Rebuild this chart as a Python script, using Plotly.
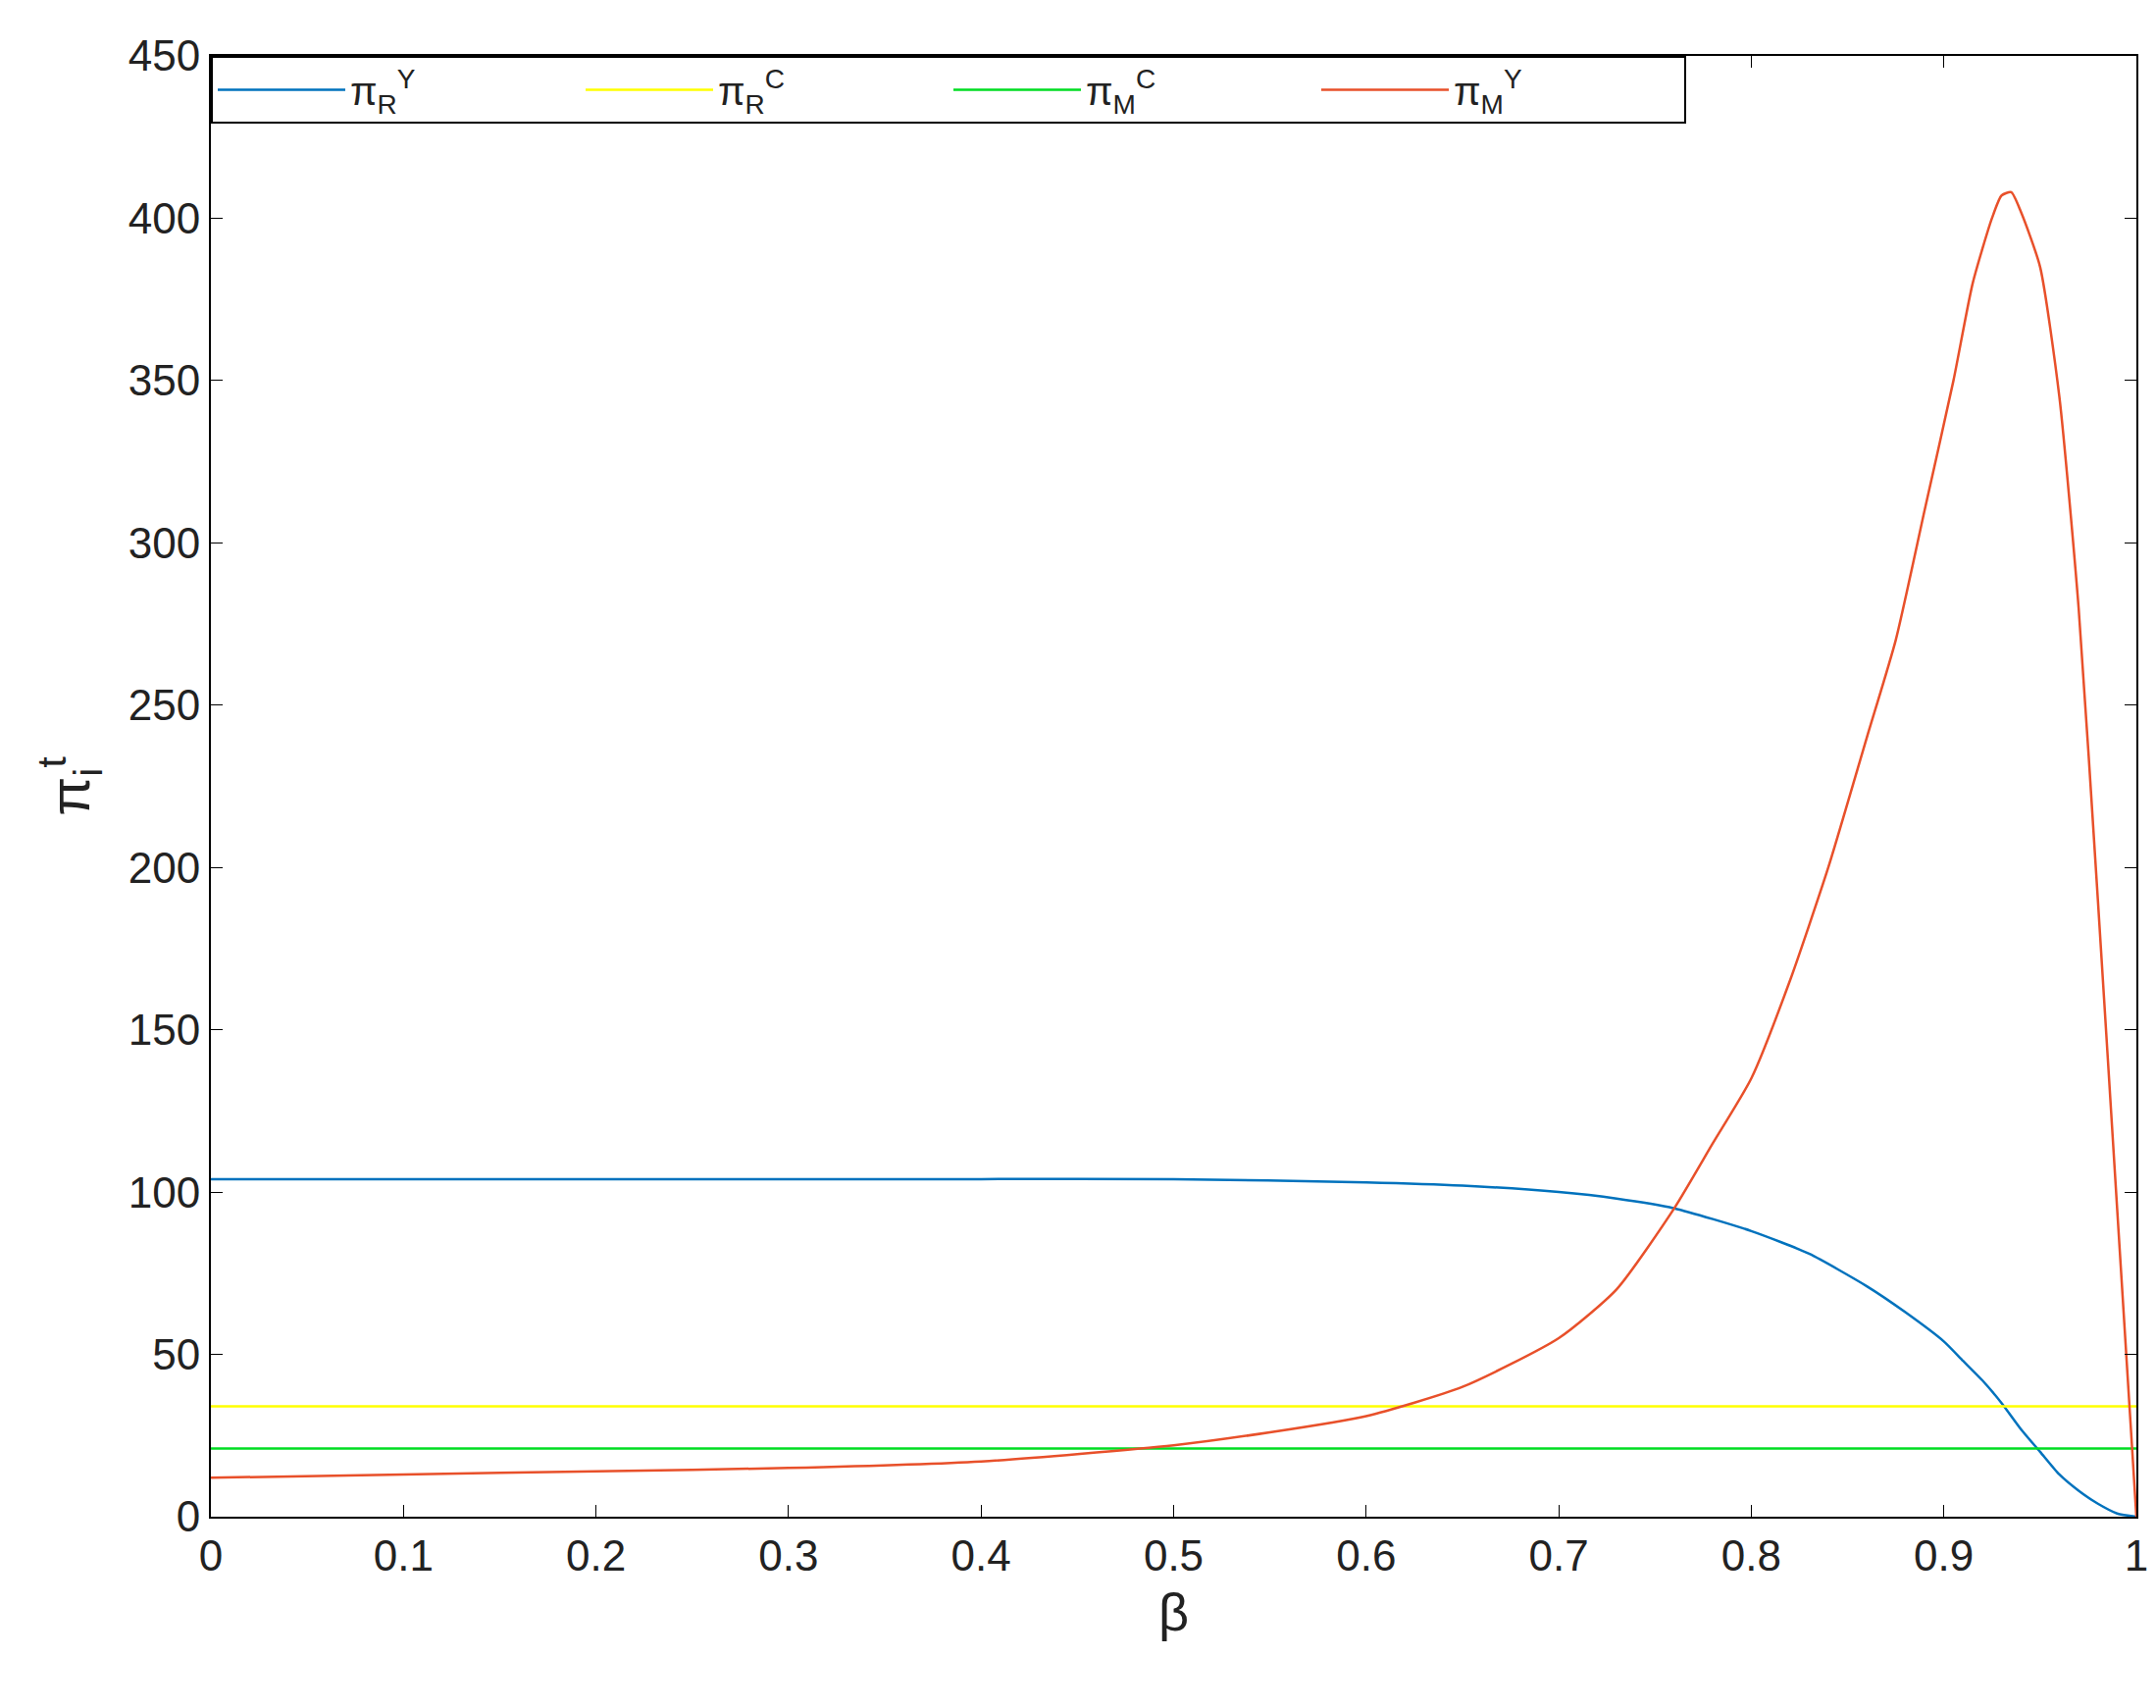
import plotly.graph_objects as go

beta_blue = [0, 0.1, 0.2, 0.3, 0.4, 0.5, 0.6, 0.65, 0.7, 0.73, 0.76, 0.8, 0.83, 0.86, 0.88, 0.9, 0.91, 0.92, 0.93, 0.94, 0.95, 0.96, 0.97, 0.98, 0.99, 1.0]
pi_R_Y = [104, 104, 104, 104, 104, 104, 103, 102, 100, 98, 95, 88, 81, 71, 63, 54, 48, 42, 35, 27, 20, 13, 8, 4, 1, 0]

beta_red = [0, 0.1, 0.2, 0.3, 0.4, 0.5, 0.55, 0.6, 0.65, 0.7, 0.73, 0.76, 0.78, 0.8, 0.82, 0.84, 0.86, 0.875, 0.89, 0.905, 0.915, 0.925, 0.93, 0.935, 0.94, 0.95, 0.96, 0.97, 0.98, 0.99, 1.0]
pi_M_Y = [12, 13, 14, 15, 17, 22, 26, 31, 40, 55, 70, 95, 115, 135, 165, 200, 240, 270, 310, 350, 380, 400, 407, 408, 402, 385, 345, 280, 190, 95, 0]

beta_flat = [0, 1]
pi_R_C = [34, 34]
pi_M_C = [21, 21]

fig = go.Figure()
fig.add_trace(go.Scatter(x=beta_blue, y=pi_R_Y, mode="lines", line=dict(color="#0072BD", width=2.5, shape="spline", smoothing=0.6),
                         name="π<sub>R</sub><sup>Y</sup>"))
fig.add_trace(go.Scatter(x=beta_flat, y=pi_R_C, mode="lines", line=dict(color="#FFFF00", width=2.5),
                         name="π<sub>R</sub><sup>C</sup>"))
fig.add_trace(go.Scatter(x=beta_flat, y=pi_M_C, mode="lines", line=dict(color="#00DD22", width=2.5),
                         name="π<sub>M</sub><sup>C</sup>"))
fig.add_trace(go.Scatter(x=beta_red, y=pi_M_Y, mode="lines", line=dict(color="#E8502A", width=2.5, shape="spline", smoothing=0.6),
                         name="π<sub>M</sub><sup>Y</sup>"))

axis_style = dict(showline=True, linecolor="black", linewidth=2, mirror="ticks", ticks="inside",
                  ticklen=12, tickcolor="black", showgrid=False, zeroline=False,
                  tickfont=dict(size=44, color="#222"))
fig.update_xaxes(range=[0, 1], tickvals=[i / 10 for i in range(11)],
                 ticktext=["0", "0.1", "0.2", "0.3", "0.4", "0.5", "0.6", "0.7", "0.8", "0.9", "1"],
                 title=dict(text="β", font=dict(size=54)), **axis_style)
fig.update_yaxes(range=[0, 450], dtick=50,
                 title=dict(text="π<sub>i</sub><sup>t</sup>", font=dict(size=58), standoff=20), **axis_style)

fig.update_layout(
    width=2198, height=1741,
    plot_bgcolor="white", paper_bgcolor="white",
    font=dict(family="Liberation Sans, Arial, sans-serif", color="#222"),
    margin=dict(l=207, r=28, t=49, b=203),
    showlegend=True,
    legend=dict(orientation="h", x=0.0, y=1.0, xanchor="left", yanchor="top",
                bordercolor="black", borderwidth=2, bgcolor="white",
                font=dict(size=40), itemwidth=130, entrywidth=230,
                tracegroupgap=0),
)

fig.write_html("out.html")
